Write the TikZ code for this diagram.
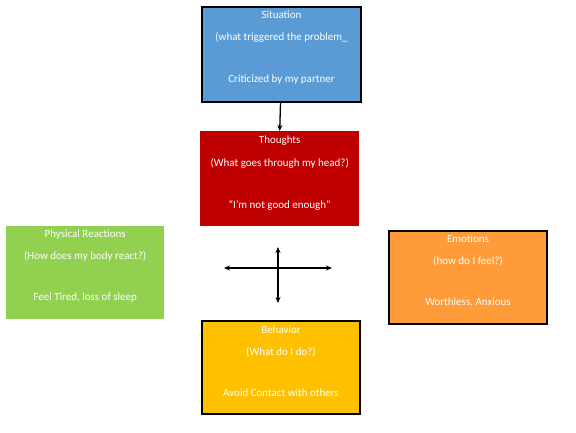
\documentclass[tikz,border=0pt]{standalone}
\usepackage{fontspec}
\setmainfont{Carlito}
\usetikzlibrary{arrows.meta}
\definecolor{sitblue}{HTML}{5B9BD5}
\definecolor{thred}{HTML}{C00000}
\definecolor{phgreen}{HTML}{92D050}
\definecolor{emorange}{HTML}{FF9B38}
\definecolor{behyellow}{HTML}{FFC000}
\tikzset{
  box/.style={rectangle, minimum width=159pt, minimum height=95pt, inner sep=0pt, anchor=north west},
  framed/.style={draw=black, line width=2pt},
  txt/.style={text=white, font=\fontsize{11}{13}\selectfont, inner sep=0pt, anchor=center},
  conn/.style={line width=1.3pt, -{Stealth[length=6pt,width=5pt]}},
  conn2/.style={line width=1.3pt, {Stealth[length=6pt,width=5pt]}-{Stealth[length=6pt,width=5pt]}}
}
\begin{document}
\begin{tikzpicture}[x=1pt,y=-1pt]
\useasboundingbox[fill=white] (0,0) rectangle (576,432);
% boxes
\node[box, framed, fill=sitblue] (sit) at (201,6) {};
\node[box, fill=thred] (tho) at (200,131) {};
\node[box, fill=phgreen, minimum width=158pt, minimum height=93pt] (phy) at (6,226) {};
\node[box, framed, fill=emorange, minimum width=158pt, minimum height=93pt] (emo) at (388,230) {};
\node[box, framed, fill=behyellow, minimum width=158pt, minimum height=93pt] (beh) at (201,320) {};
% texts
\node[txt] (sit1) at ([yshift=-9]sit.north) {Situation};
\node[txt] (sit2) at ([yshift=-31]sit.north) {(what triggered the problem\_};
\node[txt] (sit3) at ([yshift=-74]sit.north) {Criticized by my partner};
\node[txt] (tho1) at ([yshift=-10]tho.north) {Thoughts};
\node[txt] (tho2) at ([yshift=-32]tho.north) {(What goes through my head?)};
\node[txt] (tho3) at ([yshift=-74]tho.north) {“I’m not good enough”};
\node[txt] (phy1) at ([yshift=-9]phy.north) {Physical Reactions};
\node[txt] (phy2) at ([yshift=-30]phy.north) {(How does my body react?)};
\node[txt] (phy3) at ([yshift=-72]phy.north) {Feel Tired, loss of  sleep};
\node[txt] (emo1) at ([yshift=-9]emo.north) {Emotions};
\node[txt] (emo2) at ([yshift=-31]emo.north) {(how do I feel?)};
\node[txt] (emo3) at ([yshift=-72]emo.north) {Worthless, Anxious};
\node[txt] (beh1) at ([yshift=-10]beh.north) {Behavior};
\node[txt] (beh2) at ([yshift=-32]beh.north) {(What do I do?)};
\node[txt] (beh3) at ([yshift=-73]beh.north) {Avoid Contact with others};
% connector situation -> thoughts
\draw[conn] ([xshift=-1]sit.south) -- ([xshift=0]tho.north);
% cross
\coordinate (cl) at (224,268);
\coordinate (cr) at (332,268);
\coordinate (ct) at (278,247);
\coordinate (cb) at (278,303);
\draw[conn2] (cl) -- (cr);
\draw[conn2] (ct) -- (cb);
\end{tikzpicture}
\end{document}
